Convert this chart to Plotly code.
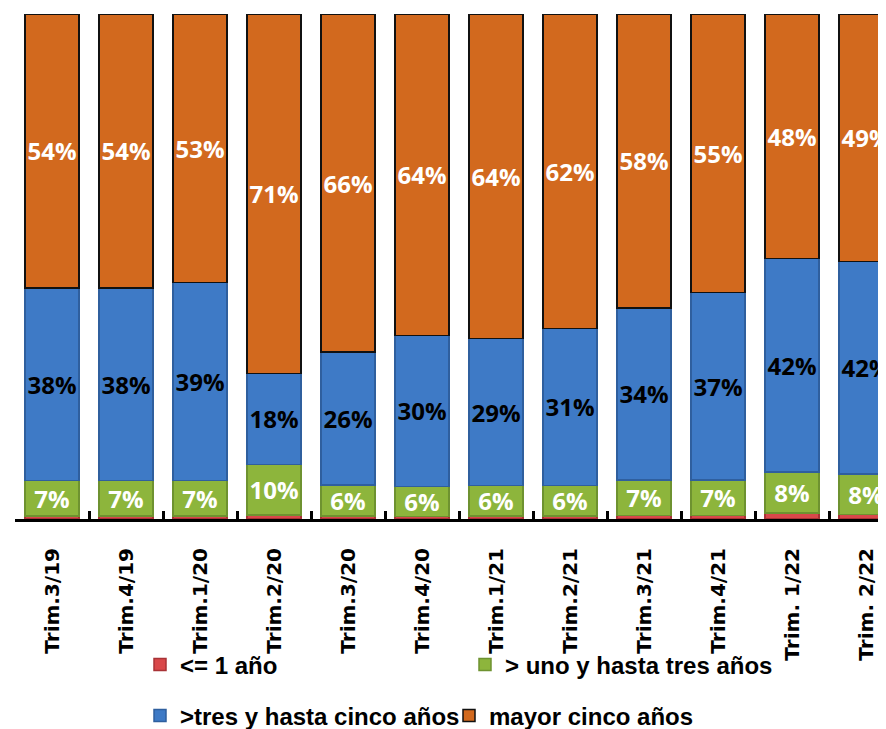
import plotly.graph_objects as go

categories = ["Trim.3/19", "Trim.4/19", "Trim.1/20", "Trim.2/20", "Trim.3/20", "Trim.4/20",
              "Trim.1/21", "Trim.2/21", "Trim.3/21", "Trim.4/21", "Trim. 1/22", "Trim. 2/22"]

hasta_1 = [0.6, 0.6, 0.6, 0.8, 0.6, 0.5, 0.6, 0.6, 0.7, 0.7, 1.2, 0.9]
uno_tres = [7, 7, 7, 10, 6, 6, 6, 6, 7, 7, 8, 8]
tres_cinco = [38, 38, 39, 18, 26, 30, 29, 31, 34, 37, 42, 42]
mayor_cinco = [54, 54, 53, 71, 66, 64, 64, 62, 58, 55, 48, 49]

series = [
    ("<= 1 año", hasta_1, "#D9484A", "#A83236", None, "legend"),
    ("> uno y hasta tres años", uno_tres, "#8DB53C", "#6E9230", "white", "legend"),
    (">tres y hasta cinco años", tres_cinco, "#3E7AC6", "#2F5F9E", "black", "legend2"),
    ("mayor cinco años", mayor_cinco, "#D2691E", "#111111", "white", "legend2"),
]

legend_font = dict(family="Liberation Sans", size=24, weight="bold", color="black")

fig = go.Figure()
for name, vals, color, edge, txtcolor, leg in series:
    fig.add_trace(
        go.Bar(
            x=categories,
            y=vals,
            name=name,
            legend=leg,
            marker=dict(color=color, line=dict(color=edge, width=1.5)),
            text=[f"{v}%" for v in vals] if txtcolor else None,
            textposition="inside" if txtcolor else "none",
            insidetextanchor="middle",
            constraintext="none",
            textangle=0,
            textfont=dict(family="Open Sans", size=24, weight="bold", color=txtcolor or "white"),
        )
    )

# the page body adds 8px around the figure, margins below allow for it
fig.update_layout(
    width=886,
    height=729,
    barmode="stack",
    barnorm="percent",
    bargap=0.27,
    plot_bgcolor="white",
    paper_bgcolor="white",
    margin=dict(l=7, r=0, t=6, b=218, autoexpand=False),
    showlegend=True,
    xaxis=dict(
        range=[-0.5, 11.378],
        automargin=False,
        showline=True,
        linecolor="black",
        linewidth=3,
        ticks="inside",
        tickson="boundaries",
        ticklen=8,
        tickwidth=3,
        tickcolor="black",
        tickangle=-90,
        ticklabelstandoff=18,
        tickfont=dict(family="DejaVu Sans", size=20, weight="bold", color="black"),
    ),
    yaxis=dict(
        range=[0, 100],
        automargin=False,
        showgrid=False,
        zeroline=False,
        showticklabels=False,
    ),
    legend=dict(
        orientation="h",
        x=125 / 879,
        xanchor="left",
        y=(511 - 657) / 505,
        yanchor="middle",
        entrywidth=280,
        bgcolor="rgba(0,0,0,0)",
        traceorder="normal",
        font=legend_font,
    ),
    legend2=dict(
        orientation="h",
        x=125 / 879,
        xanchor="left",
        y=(511 - 708) / 505,
        yanchor="middle",
        entrywidth=264,
        bgcolor="rgba(0,0,0,0)",
        traceorder="normal",
        font=legend_font,
    ),
)

fig.write_html("out.html")
